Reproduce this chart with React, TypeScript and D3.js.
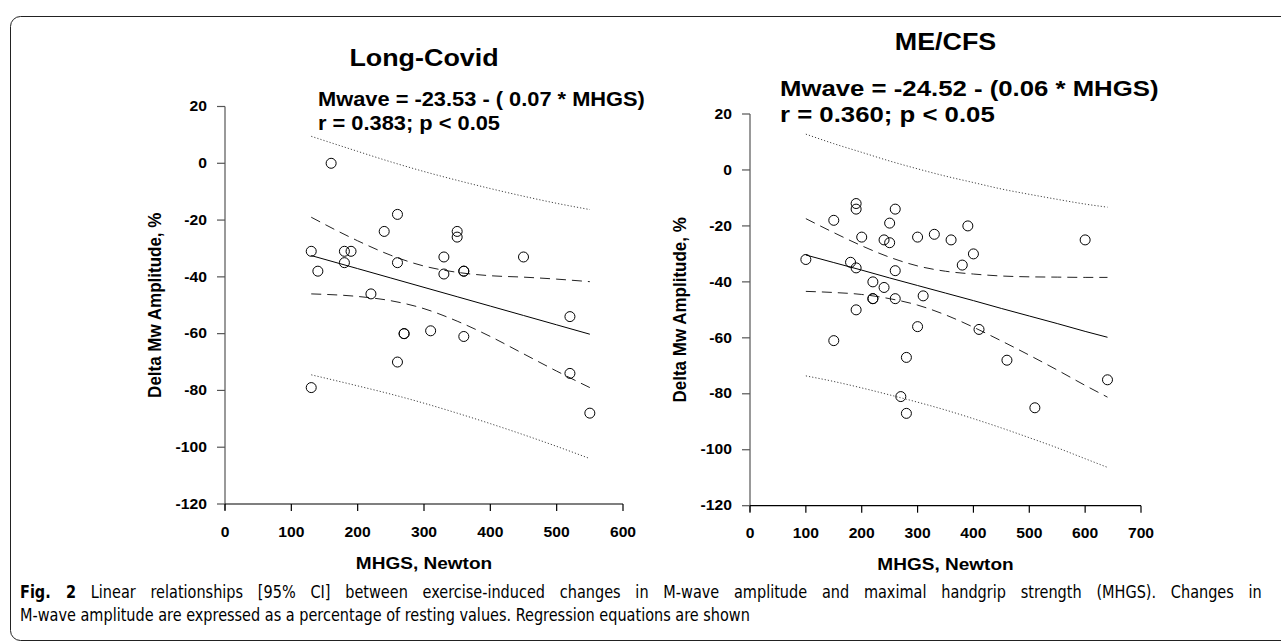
import React, { useEffect, useRef } from "react";
import * as d3 from "d3";

// Long-Covid panel
const lcMhgs = [160, 260, 240, 130, 180, 190, 180, 260, 140, 220, 270, 270, 310, 350, 350, 330, 450, 330, 360, 360, 520, 360, 520, 550, 260, 130];
const lcMwave = [0, -18, -24, -31, -31, -31, -35, -35, -38, -46, -60, -60, -59, -24, -26, -33, -33, -39, -38, -38, -54, -61, -74, -88, -70, -79];
const lcBandX = [130, 200, 250, 300, 350, 400, 450, 500, 550];
const lcFit = [-32.5, -37.1, -40.4, -43.7, -47.0, -50.3, -53.6, -56.9, -60.2];
const lcCiUp = [-19, -27.3, -32.4, -36.2, -38.4, -39.6, -40.1, -40.8, -41.7];
const lcCiLo = [-46, -46.9, -48.4, -51.2, -55.6, -61.0, -67.1, -73.2, -79];
const lcPiUp = [9.5, 4.2, 0.5, -2.9, -6, -8.9, -11.6, -14.1, -16.3];
const lcPiLo = [-74.5, -78.4, -81.3, -84.5, -88, -91.7, -95.6, -99.7, -104];
const lcXTicks = [0, 100, 200, 300, 400, 500, 600];

// ME/CFS panel
const meMhgs = [100, 150, 190, 190, 200, 260, 250, 240, 250, 300, 330, 360, 180, 190, 260, 220, 240, 220, 220, 260, 310, 190, 300, 390, 400, 380, 600, 410, 280, 460, 640, 270, 280, 510, 150];
const meMwave = [-32, -18, -12, -14, -24, -14, -19, -25, -26, -24, -23, -25, -33, -35, -36, -40, -42, -46, -46, -46, -45, -50, -56, -20, -30, -34, -25, -57, -67, -68, -75, -81, -87, -85, -61];
const meBandX = [100, 150, 200, 250, 300, 350, 400, 450, 500, 550, 600, 640];
const meFit = [-30.4, -33.1, -35.8, -38.6, -41.3, -44.0, -46.7, -49.5, -52.2, -54.9, -57.7, -59.8];
const meCiUp = [-17.4, -22.4, -27.1, -31.2, -34.3, -36.2, -37.2, -37.9, -38.2, -38.3, -38.4, -38.4];
const meCiLo = [-43.4, -43.8, -44.5, -46.0, -48.3, -51.8, -56.2, -61.1, -66.2, -71.5, -77.0, -81.2];
const mePiUp = [12.8, 9.4, 6.3, 3.2, 0.4, -2.2, -4.5, -6.8, -8.7, -10.5, -12.2, -13.3];
const mePiLo = [-73.6, -75.6, -77.9, -80.4, -83.0, -85.8, -88.9, -92.2, -95.7, -99.3, -103.2, -106.3];
const meXTicks = [0, 100, 200, 300, 400, 500, 600, 700];

const yTicks = [20, 0, -20, -40, -60, -80, -100, -120];

const capLine1 = "Linear relationships [95% CI] between exercise-induced changes in M-wave amplitude and maximal handgrip strength (MHGS). Changes in";
const capLine2 = "M-wave amplitude are expressed as a percentage of resting values. Regression equations are shown";

const FONT = "'Liberation Sans', Arial, sans-serif";
const CAP_FONT = "'Liberation Sans Narrow', 'DejaVu Sans Condensed', 'Liberation Sans', sans-serif";
const SX = 1.12; // the source figure is a bit stretched sideways

const T = ({ x, y, size, anchor = "middle", rotate = 0, children }: any) => (
  <text
    transform={`translate(${x},${y}) rotate(${rotate}) scale(${rotate ? 1 : SX},${rotate ? SX : 1})`}
    fontFamily={FONT}
    fontWeight="bold"
    fontSize={size}
    textAnchor={anchor}
    dominantBaseline="central"
  >
    {children}
  </text>
);

const Panel = (p: any) => {
  const x = d3.scaleLinear().domain([0, p.xMax]).range(p.xr);
  const y = d3.scaleLinear().domain([20, -120]).range(p.yr);
  const line = (vals: number[]) =>
    d3
      .line<number>()
      .x((d, i) => x(p.bandX[i]))
      .y((d) => y(d))
      .curve(d3.curveMonotoneX)(vals) as string;
  const x0 = p.xr[0];
  const yBot = p.yr[1];
  const midX = (p.xr[0] + p.xr[1]) / 2;
  const midY = (p.yr[0] + p.yr[1]) / 2;
  return (
    <g>
      <T x={midX} y={p.titleY} size={24}>{p.title}</T>
      <T x={p.eqX} y={p.eqY} size={p.eqSize} anchor="start">{p.eq}</T>
      <T x={p.eqX} y={p.eqY + p.eqGap} size={p.eqSize} anchor="start">{p.stat}</T>

      {/* y axis */}
      <line x1={x0} x2={x0} y1={y(20)} y2={yBot + 6} stroke="#555" strokeWidth={1.2} />
      {yTicks.map((t) => (
        <g key={t}>
          <line x1={x0 - 8} x2={x0} y1={y(t)} y2={y(t)} stroke="#555" strokeWidth={1.2} />
          <T x={x0 - 18} y={y(t)} size={14} anchor="end">{t}</T>
        </g>
      ))}
      {/* x axis */}
      <line x1={x0} x2={p.xr[1]} y1={yBot} y2={yBot} stroke="#000" strokeWidth={1.2} />
      {p.xTicks.map((t: number) => (
        <g key={t}>
          <line x1={x(t)} x2={x(t)} y1={yBot} y2={yBot + 7} stroke="#000" strokeWidth={1.2} />
          <T x={x(t)} y={yBot + 28} size={14}>{t}</T>
        </g>
      ))}
      <T x={midX} y={yBot + 59} size={17}>MHGS, Newton</T>
      <T x={p.yLabX} y={midY} size={17} rotate={-90}>Delta Mw Amplitude, %</T>

      {/* bands */}
      <path d={line(p.piUp)} fill="none" stroke="#444" strokeWidth={1} strokeDasharray="1.2,2" />
      <path d={line(p.piLo)} fill="none" stroke="#444" strokeWidth={1} strokeDasharray="1.2,2" />
      <path d={line(p.ciUp)} fill="none" stroke="#222" strokeWidth={1} strokeDasharray="10,6" />
      <path d={line(p.ciLo)} fill="none" stroke="#222" strokeWidth={1} strokeDasharray="10,6" />
      <path d={line(p.fit)} fill="none" stroke="#000" strokeWidth={1} />

      {p.xs.map((v: number, i: number) => (
        <circle key={i} cx={x(v)} cy={y(p.ys[i])} r={5} fill="none" stroke="#000" strokeWidth={1} />
      ))}
    </g>
  );
};

export default function App() {
  const l1 = useRef<SVGTextElement>(null);
  const l2 = useRef<SVGTextElement>(null);

  // caption: narrow both lines the same way, justify the first one with a little word spacing
  useEffect(() => {
    const w2 = l2.current!.getComputedTextLength();
    const f = 730 / w2;
    d3.select(l2.current).attr("transform", `translate(20,621) scale(${f},1)`);
    const w1 = l1.current!.getComputedTextLength();
    const spaces = (capLine1.match(/ /g) || []).length + 2;
    const ws = Math.max(0, (1242 / f - w1) / spaces);
    d3.select(l1.current)
      .attr("transform", `translate(20,598) scale(${f},1)`)
      .attr("word-spacing", ws);
  }, []);

  return (
    <svg width={1281} height={643} style={{ position: "absolute", left: 0, top: 0, background: "#fff" }}>
      <rect x={10.5} y={16.5} width={1300} height={624} rx={10} fill="none" stroke="#222" strokeWidth={1} />
      <Panel
        title="Long-Covid" titleY={58}
        eq="Mwave = -23.53 - ( 0.07 * MHGS)" stat="r = 0.383; p < 0.05"
        eqX={318} eqY={99} eqGap={24} eqSize={19.5}
        xMax={600} xr={[225, 623]} yr={[106.5, 504]} xTicks={lcXTicks} yLabX={155}
        xs={lcMhgs} ys={lcMwave} bandX={lcBandX}
        fit={lcFit} ciUp={lcCiUp} ciLo={lcCiLo} piUp={lcPiUp} piLo={lcPiLo}
      />
      <Panel
        title="ME/CFS" titleY={42}
        eq="Mwave = -24.52 - (0.06 * MHGS)" stat="r = 0.360; p < 0.05"
        eqX={780} eqY={88} eqGap={26} eqSize={23}
        xMax={700} xr={[750, 1141]} yr={[114, 505.7]} xTicks={meXTicks} yLabX={680}
        xs={meMhgs} ys={meMwave} bandX={meBandX}
        fit={meFit} ciUp={meCiUp} ciLo={meCiLo} piUp={mePiUp} piLo={mePiLo}
      />
      <text ref={l1} transform="translate(20,598)" fontFamily={CAP_FONT} fontSize={17}>
        <tspan fontWeight="bold">Fig. 2</tspan>
        <tspan>{"  " + capLine1}</tspan>
      </text>
      <text ref={l2} transform="translate(20,621)" fontFamily={CAP_FONT} fontSize={17}>
        {capLine2}
      </text>
    </svg>
  );
}
